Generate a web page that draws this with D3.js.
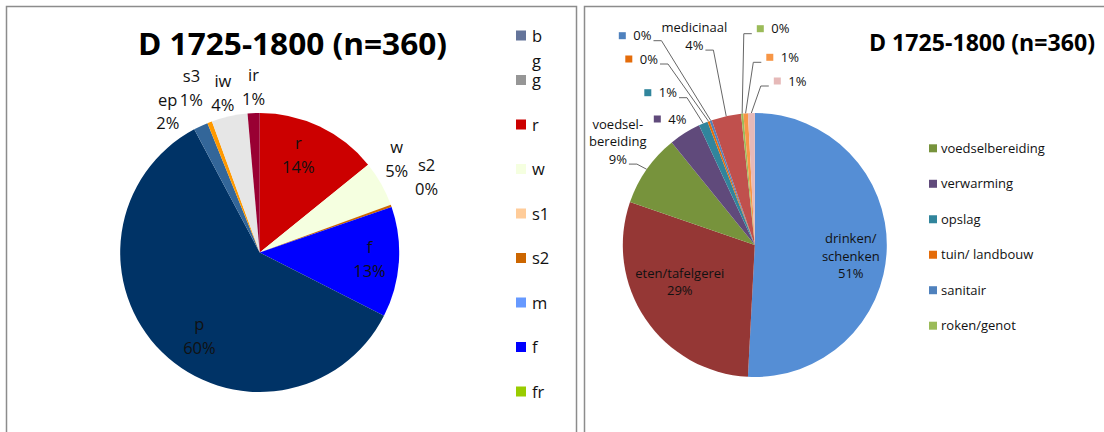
<!DOCTYPE html>
<html>
<head>
<meta charset="utf-8">
<script src="https://cdn.jsdelivr.net/npm/d3@7"></script>
<style>
  body { margin: 0; background: #fff; }
  svg { display: block; font-family: 'Open Sans', sans-serif; }
</style>
</head>
<body>
<svg id="chart" width="1104" height="432"></svg>
<script>
var chartTitle = 'D 1725-1800 (n=360)';

// left pie: find types (counts, n = 360)
var leftCategories = ['b', 'g g', 'r', 'w', 's1', 's2', 'm', 'f', 'fr', 'p', 'ep', 's3', 'iw', 'ir'];
var leftCounts = [0, 0, 51, 19, 0, 1, 0, 46, 0, 215, 6, 2, 15, 5];
var leftColors = ['#64749a', '#969696', '#cc0000', '#f5ffe0', '#ffcc99', '#cc6600', '#6699ff', '#0000ff',
                  '#99cc00', '#003366', '#336699', '#ff9900', '#e6e6e6', '#990033'];
var leftLegend = ['b', 'g g', 'r', 'w', 's1', 's2', 'm', 'f', 'fr'];

// right pie: functions (counts, n = 360)
var rightCategories = ['drinken/schenken', 'eten/tafelgerei', 'voedselbereiding', 'verwarming', 'opslag',
                       'tuin/ landbouw', 'sanitair', 'medicinaal', 'roken/genot', 'overig 1', 'overig 2'];
var rightCounts = [183, 106, 32, 14, 4, 1, 1, 13, 1, 2, 3];
var rightColors = ['#558ed5', '#953735', '#77933c', '#604a7b', '#31859c', '#e46c0a', '#4f81bd',
                   '#c0504d', '#9bbb59', '#f79646', '#e6b9b8'];
var rightLegend = ['voedselbereiding', 'verwarming', 'opslag', 'tuin/ landbouw', 'sanitair', 'roken/genot'];

var svg = d3.select('#chart');
var pct = d3.format('.0%');
var pie = d3.pie().sort(null).value(d => d.value);

// chart area frames
svg.append('rect').attr('x', 6.5).attr('y', 6.5).attr('width', 570).attr('height', 450)
    .attr('fill', 'none').attr('stroke', '#8c8c8c').attr('stroke-width', 1.5);
svg.append('rect').attr('x', 584.5).attr('y', 6.5).attr('width', 560).attr('height', 450)
    .attr('fill', 'none').attr('stroke', '#8c8c8c').attr('stroke-width', 1.5);

function textBlock(g, x, y, lines, fs, lh, anchor) {
    var t = g.append('text')
        .attr('text-anchor', anchor)
        .style('font-size', fs + 'px')
        .style('fill', '#111');
    lines.forEach((l, i) => {
        t.append('tspan')
            .attr('x', x)
            .attr('y', y + (i - (lines.length - 1) / 2) * lh + 0.36 * fs)
            .text(l);
    });
    return t;
}

// ---------- left pie ----------
(function () {
    var cx = 259.7, cy = 252.5, R = 139.5;
    var total = d3.sum(leftCounts);
    var data = leftCategories.map((c, i) => ({name: c, value: leftCounts[i], color: leftColors[i]}));
    var arcs = pie(data);
    var g = svg.append('g').attr('transform', 'translate(' + cx + ',' + cy + ')');

    g.selectAll('path.slice')
        .data(arcs)
        .enter()
            .append('path')
            .attr('class', 'slice')
            .attr('d', d3.arc().innerRadius(0).outerRadius(R))
            .style('fill', d => d.data.color);

    // label radius factor and nudge per slice
    var place = {
        'r': [0.76, -7, -2], 'f': [0.76, 4, -1], 'p': [0.76, 14, 8],
        'w': [1.186, -7, -12], 's2': [1.186, 11, -20], 'ir': [1.186, 1, 0],
        'iw': [1.186, -1, 2], 's3': [1.186, -9, -10], 'ep': [1.186, -22, 9]
    };
    arcs.filter(d => d.value > 0).forEach(d => {
        var p = place[d.data.name] || [1.186, 0, 0];
        var c = d3.arc().innerRadius(R * p[0]).outerRadius(R * p[0]).centroid(d);
        textBlock(g, c[0] + p[1], c[1] + p[2], [d.data.name, pct(d.value / total)], 16.5, 23.8, 'middle');
    });

    svg.append('text')
        .attr('x', 292.5).attr('y', 55)
        .attr('text-anchor', 'middle')
        .attr('textLength', 309).attr('lengthAdjust', 'spacingAndGlyphs')
        .style('font-size', '30px').style('font-weight', 'bold')
        .text(chartTitle);

    var y = d3.scalePoint().domain(leftLegend).range([35.5, 391.5]);
    var leg = svg.append('g').attr('class', 'legend');
    leftLegend.forEach(name => {
        var i = leftCategories.indexOf(name);
        leg.append('rect')
            .attr('x', 516).attr('y', y(name) - 5)
            .attr('width', 10).attr('height', 10)
            .style('fill', leftColors[i]);
        var lines = name.split(' ');
        var t = leg.append('text')
            .style('font-size', '16.5px').style('fill', '#111');
        lines.forEach((l, j) => {
            t.append('tspan')
                .attr('x', 532)
                .attr('y', y(name) + (j - lines.length + 1) * 19 + 6)
                .text(l);
        });
    });
})();

// ---------- right pie ----------
(function () {
    var cx = 754.8, cy = 245, R = 132;
    var total = d3.sum(rightCounts);
    var data = rightCategories.map((c, i) => ({name: c, value: rightCounts[i], color: rightColors[i]}));
    var arcs = pie(data);
    var g = svg.append('g').attr('transform', 'translate(' + cx + ',' + cy + ')');

    g.selectAll('path.slice')
        .data(arcs)
        .enter()
            .append('path')
            .attr('class', 'slice')
            .attr('d', d3.arc().innerRadius(0).outerRadius(R))
            .style('fill', d => d.data.color);

    // label anchors relative to pie centre (Excel dragged labels)
    var place = {
        'drinken/schenken': {dx: 96, dy: 11, lines: ['drinken/', 'schenken']},
        'eten/tafelgerei': {dx: -75, dy: 37, lines: ['eten/tafelgerei']},
        'voedselbereiding': {dx: -137, dy: -103.5, lines: ['voedsel-', 'bereiding'], leader: true},
        'verwarming': {dx: -97.5, dy: -126, key: true},
        'opslag': {dx: -107, dy: -152.3, key: true, leader: true},
        'tuin/ landbouw': {dx: -126, dy: -186, key: true, leader: true},
        'sanitair': {dx: -132.5, dy: -209.3, key: true, leader: true},
        'medicinaal': {dx: -60.5, dy: -208.7, lines: ['medicinaal'], leader: true},
        'roken/genot': {dx: 5.5, dy: -216.3, key: true, leader: true},
        'overig 1': {dx: 15, dy: -187.7, key: true, leader: true},
        'overig 2': {dx: 22.5, dy: -164, key: true, leader: true}
    };
    var fs = 13, lh = 17.6;
    var edge = d3.arc().innerRadius(R).outerRadius(R);

    arcs.forEach(d => {
        var p = place[d.data.name];
        var label = pct(d.value / total);
        var sx, sy, dir;
        if (p.key) {
            g.append('rect')
                .attr('x', p.dx - 3.5).attr('y', p.dy - 3.5)
                .attr('width', 7).attr('height', 7)
                .style('fill', d.data.color);
            var t = textBlock(g, p.dx + 11, p.dy, [label], fs, lh, 'start');
            var w = t.node().getComputedTextLength();
            dir = p.dx < 0 ? 1 : -1;
            sx = dir > 0 ? p.dx + 11 + w + 2 : p.dx - 8.5;
            sy = p.dy + 5;
        } else {
            var lines = p.lines.concat([label]);
            var t = textBlock(g, p.dx, p.dy, lines, fs, lh, 'middle');
            var last = t.selectAll('tspan').nodes().pop();
            sx = p.dx + last.getComputedTextLength() / 2 + 2;
            sy = p.dy + (lines.length - 1) / 2 * lh + 5;
            dir = 1;
        }
        if (p.leader) {
            var e = edge.centroid(d);
            g.append('path')
                .attr('d', d3.line()([[sx, sy], [sx + dir * 8, sy], e]))
                .attr('fill', 'none')
                .attr('stroke', '#666')
                .attr('stroke-width', 1);
        }
    });

    svg.append('text')
        .attr('x', 869).attr('y', 50.7)
        .attr('textLength', 226).attr('lengthAdjust', 'spacingAndGlyphs')
        .style('font-size', '23px').style('font-weight', 'bold')
        .text(chartTitle);

    var y = d3.scalePoint().domain(rightLegend).range([148.3, 325.7]);
    var leg = svg.append('g').attr('class', 'legend');
    rightLegend.forEach(name => {
        var i = rightCategories.indexOf(name);
        leg.append('rect')
            .attr('x', 929).attr('y', y(name) - 4)
            .attr('width', 8).attr('height', 8)
            .style('fill', rightColors[i]);
        leg.append('text')
            .attr('x', 941).attr('y', y(name) + 4.7)
            .style('font-size', '13px').style('fill', '#111')
            .text(name);
    });
})();
</script>
</body>
</html>
